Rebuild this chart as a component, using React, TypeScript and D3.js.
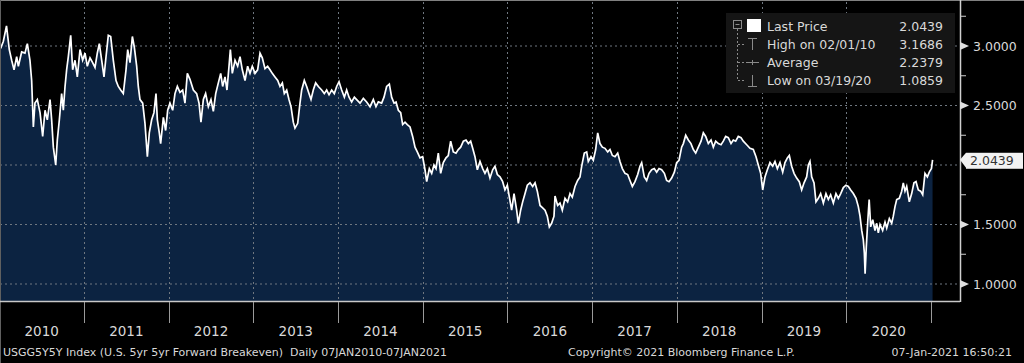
import React from "react";
import * as d3 from "d3";

// USGG5Y5Y (U.S. 5yr 5yr Forward Breakeven), [decimal year, value]
const breakeven: [number, number][] = [
  [2010.016, 2.98], [2010.048, 3.04], [2010.085, 3.1686], [2010.118, 2.97], [2010.146, 2.88],
  [2010.174, 2.8], [2010.205, 2.91], [2010.225, 2.83], [2010.264, 2.95], [2010.303, 2.94],
  [2010.331, 3.02], [2010.362, 2.88], [2010.382, 2.71], [2010.402, 2.32], [2010.421, 2.52],
  [2010.449, 2.55], [2010.481, 2.44], [2010.512, 2.24], [2010.54, 2.46], [2010.567, 2.38],
  [2010.599, 2.55], [2010.618, 2.38], [2010.638, 2.15], [2010.666, 2.0], [2010.685, 2.21],
  [2010.709, 2.38], [2010.736, 2.6], [2010.756, 2.46], [2010.776, 2.66], [2010.795, 2.8],
  [2010.815, 2.91], [2010.843, 3.09], [2010.866, 2.8], [2010.894, 2.88], [2010.921, 2.74],
  [2010.953, 2.97], [2010.984, 2.88], [2011.012, 2.94], [2011.039, 2.83], [2011.071, 2.9],
  [2011.102, 2.86], [2011.13, 2.82], [2011.157, 2.94], [2011.181, 3.02], [2011.209, 2.88],
  [2011.236, 2.74], [2011.26, 2.91], [2011.287, 3.09], [2011.315, 3.08], [2011.346, 2.88],
  [2011.378, 2.71], [2011.405, 2.66], [2011.433, 2.63], [2011.464, 2.6], [2011.496, 2.8],
  [2011.516, 2.97], [2011.543, 2.86], [2011.571, 3.08], [2011.594, 2.99], [2011.622, 2.83],
  [2011.641, 2.66], [2011.661, 2.55], [2011.693, 2.52], [2011.72, 2.35], [2011.748, 2.07],
  [2011.771, 2.27], [2011.799, 2.38], [2011.826, 2.44], [2011.85, 2.6], [2011.866, 2.38],
  [2011.889, 2.27], [2011.905, 2.18], [2011.937, 2.4], [2011.964, 2.29], [2011.988, 2.46],
  [2012.015, 2.52], [2012.047, 2.46], [2012.074, 2.6], [2012.102, 2.66], [2012.133, 2.61],
  [2012.165, 2.63], [2012.192, 2.52], [2012.22, 2.77], [2012.251, 2.72], [2012.291, 2.63],
  [2012.33, 2.6], [2012.358, 2.52], [2012.381, 2.36], [2012.409, 2.55], [2012.436, 2.6],
  [2012.468, 2.49], [2012.499, 2.55], [2012.527, 2.45], [2012.555, 2.6], [2012.586, 2.69],
  [2012.614, 2.77], [2012.637, 2.66], [2012.665, 2.74], [2012.688, 2.63], [2012.712, 2.83],
  [2012.728, 2.97], [2012.751, 2.77], [2012.783, 2.88], [2012.814, 2.83], [2012.842, 2.91],
  [2012.869, 2.8], [2012.901, 2.71], [2012.932, 2.83], [2012.96, 2.77], [2012.987, 2.83],
  [2013.019, 2.77], [2013.05, 2.8], [2013.078, 2.94], [2013.105, 2.9], [2013.137, 2.81],
  [2013.168, 2.83], [2013.196, 2.8], [2013.223, 2.77], [2013.255, 2.74], [2013.287, 2.71],
  [2013.314, 2.66], [2013.342, 2.69], [2013.365, 2.6], [2013.393, 2.63], [2013.42, 2.55],
  [2013.444, 2.49], [2013.471, 2.36], [2013.491, 2.31], [2013.523, 2.35], [2013.55, 2.52],
  [2013.57, 2.63], [2013.601, 2.71], [2013.629, 2.66], [2013.656, 2.6], [2013.68, 2.55],
  [2013.707, 2.63], [2013.735, 2.69], [2013.767, 2.66], [2013.806, 2.63], [2013.837, 2.6],
  [2013.865, 2.63], [2013.893, 2.59], [2013.924, 2.63], [2013.955, 2.6], [2013.983, 2.66],
  [2014.011, 2.7], [2014.042, 2.63], [2014.074, 2.57], [2014.101, 2.63], [2014.129, 2.57],
  [2014.16, 2.53], [2014.192, 2.57], [2014.219, 2.55], [2014.259, 2.52], [2014.298, 2.56],
  [2014.337, 2.53], [2014.377, 2.49], [2014.416, 2.55], [2014.447, 2.49], [2014.475, 2.53],
  [2014.514, 2.52], [2014.542, 2.57], [2014.573, 2.66], [2014.605, 2.68], [2014.632, 2.57],
  [2014.66, 2.52], [2014.684, 2.53], [2014.711, 2.46], [2014.739, 2.44], [2014.762, 2.34],
  [2014.79, 2.36], [2014.817, 2.34], [2014.849, 2.32], [2014.88, 2.24], [2014.908, 2.15],
  [2014.935, 2.11], [2014.967, 2.06], [2014.998, 2.07], [2015.026, 1.96], [2015.046, 1.86],
  [2015.077, 1.97], [2015.105, 1.93], [2015.132, 2.0], [2015.156, 1.97], [2015.183, 2.1],
  [2015.211, 1.93], [2015.242, 2.02], [2015.274, 2.06], [2015.301, 2.08], [2015.329, 2.2],
  [2015.36, 2.11], [2015.392, 2.1], [2015.419, 2.13], [2015.447, 2.15], [2015.479, 2.2],
  [2015.51, 2.21], [2015.538, 2.18], [2015.565, 2.2], [2015.589, 2.14], [2015.616, 2.07],
  [2015.644, 1.96], [2015.675, 2.03], [2015.707, 1.97], [2015.734, 1.93], [2015.762, 1.97],
  [2015.793, 1.89], [2015.825, 1.96], [2015.852, 1.99], [2015.88, 1.92], [2015.911, 1.9],
  [2015.943, 1.86], [2015.97, 1.79], [2015.998, 1.83], [2016.022, 1.73], [2016.049, 1.62],
  [2016.077, 1.76], [2016.108, 1.62], [2016.128, 1.51], [2016.155, 1.62], [2016.179, 1.69],
  [2016.207, 1.76], [2016.234, 1.83], [2016.266, 1.85], [2016.297, 1.82], [2016.325, 1.85],
  [2016.352, 1.78], [2016.384, 1.66], [2016.415, 1.64], [2016.443, 1.62], [2016.47, 1.57],
  [2016.494, 1.48], [2016.521, 1.51], [2016.549, 1.57], [2016.561, 1.74], [2016.592, 1.66],
  [2016.62, 1.68], [2016.647, 1.62], [2016.679, 1.72], [2016.71, 1.69], [2016.738, 1.76],
  [2016.765, 1.73], [2016.797, 1.82], [2016.828, 1.87], [2016.856, 1.9], [2016.876, 1.99],
  [2016.907, 2.1], [2016.935, 2.11], [2016.954, 2.03], [2016.986, 2.07], [2017.013, 2.04],
  [2017.041, 2.13], [2017.065, 2.27], [2017.092, 2.18], [2017.12, 2.15], [2017.151, 2.14],
  [2017.183, 2.11], [2017.21, 2.13], [2017.238, 2.08], [2017.269, 2.07], [2017.301, 2.1],
  [2017.328, 2.03], [2017.356, 1.97], [2017.387, 1.93], [2017.419, 1.92], [2017.446, 1.87],
  [2017.474, 1.82], [2017.505, 1.86], [2017.537, 1.92], [2017.564, 1.99], [2017.584, 2.02],
  [2017.615, 1.9], [2017.643, 1.87], [2017.671, 1.93], [2017.702, 1.96], [2017.733, 1.97],
  [2017.761, 1.94], [2017.789, 1.97], [2017.82, 1.96], [2017.852, 1.93], [2017.879, 1.87],
  [2017.907, 1.86], [2017.938, 1.89], [2017.97, 1.94], [2017.997, 2.02], [2018.025, 2.04],
  [2018.056, 2.15], [2018.076, 2.18], [2018.104, 2.25], [2018.135, 2.21], [2018.166, 2.18],
  [2018.194, 2.13], [2018.222, 2.1], [2018.253, 2.15], [2018.285, 2.2], [2018.312, 2.27],
  [2018.34, 2.24], [2018.371, 2.18], [2018.403, 2.21], [2018.43, 2.15], [2018.458, 2.2],
  [2018.489, 2.18], [2018.521, 2.17], [2018.548, 2.2], [2018.576, 2.24], [2018.607, 2.23],
  [2018.639, 2.18], [2018.666, 2.21], [2018.694, 2.2], [2018.725, 2.24], [2018.757, 2.23],
  [2018.784, 2.2], [2018.824, 2.17], [2018.863, 2.14], [2018.902, 2.13], [2018.934, 2.07],
  [2018.961, 2.0], [2018.989, 1.93], [2019.013, 1.79], [2019.04, 1.9], [2019.068, 1.96],
  [2019.099, 2.02], [2019.131, 1.99], [2019.158, 2.03], [2019.186, 1.97], [2019.217, 2.02],
  [2019.249, 1.94], [2019.276, 2.02], [2019.304, 2.06], [2019.327, 2.08], [2019.355, 1.99],
  [2019.383, 1.93], [2019.414, 1.89], [2019.445, 1.86], [2019.473, 1.79], [2019.501, 1.85],
  [2019.532, 1.9], [2019.552, 2.0], [2019.571, 2.03], [2019.591, 1.9], [2019.619, 1.85],
  [2019.642, 1.69], [2019.67, 1.72], [2019.697, 1.76], [2019.729, 1.68], [2019.76, 1.76],
  [2019.788, 1.71], [2019.815, 1.75], [2019.847, 1.68], [2019.878, 1.76], [2019.906, 1.72],
  [2019.934, 1.76], [2019.965, 1.81], [2019.996, 1.83], [2020.024, 1.82], [2020.052, 1.79],
  [2020.083, 1.76], [2020.115, 1.72], [2020.142, 1.65], [2020.162, 1.57], [2020.182, 1.45],
  [2020.201, 1.37], [2020.213, 1.26], [2020.222, 1.0859], [2020.236, 1.31], [2020.252, 1.51],
  [2020.27, 1.71], [2020.288, 1.48], [2020.312, 1.54], [2020.339, 1.45], [2020.359, 1.51],
  [2020.378, 1.43], [2020.398, 1.5], [2020.429, 1.45], [2020.457, 1.52], [2020.477, 1.47],
  [2020.508, 1.55], [2020.536, 1.51], [2020.555, 1.57], [2020.575, 1.65], [2020.595, 1.71],
  [2020.626, 1.72], [2020.654, 1.78], [2020.673, 1.85], [2020.693, 1.78], [2020.713, 1.82],
  [2020.744, 1.69], [2020.772, 1.76], [2020.799, 1.85], [2020.823, 1.86], [2020.85, 1.79],
  [2020.878, 1.78], [2020.902, 1.75], [2020.929, 1.93], [2020.957, 1.9], [2020.98, 1.94],
  [2021.005, 1.97], [2021.0185, 2.0439],
];

const yMajorTicks = [1.0, 1.5, 2.0, 2.5, 3.0];
const yMinorTicks = [1.25, 1.75, 2.25, 2.75, 3.25];
const yearLabels = ["2010", "2011", "2012", "2013", "2014", "2015", "2016", "2017", "2018", "2019", "2020"];
const yearBoundaries = [2011, 2012, 2013, 2014, 2015, 2016, 2017, 2018, 2019, 2020, 2021];
const legendLabels = ["Last Price", "High on 02/01/10", "Average", "Low on 03/19/20"];
const legendValues = ["2.0439", "3.1686", "2.2379", "1.0859"];
const lastPrice = 2.0439;
const lastPriceLabel = "2.0439";
const footerLeft = "USGG5Y5Y Index (U.S. 5yr 5yr Forward Breakeven)  Daily 07JAN2010-07JAN2021";
const footerMid = "Copyright\u00A9 2021 Bloomberg Finance L.P.";
const footerRight = "07-Jan-2021 16:50:21";

const FONT = "'DejaVu Sans', Tahoma, sans-serif";

export default function App() {
  const W = 1024;
  const H = 363;
  const plotBottom = 301;
  const axisX = 960;
  const x = d3.scaleLinear().domain([2010, 2021]).range([-0.7, 931]);
  const y = d3.scaleLinear().domain([1, 3]).range([284, 46]);

  const line = d3
    .line<[number, number]>()
    .x((d) => x(d[0]))
    .y((d) => y(d[1]));
  const area = d3
    .area<[number, number]>()
    .x((d) => x(d[0]))
    .y0(plotBottom)
    .y1((d) => y(d[1]));

  const gridColor = "#6f7780";
  const textColor = "#d9d9d9";
  const lastY = y(lastPrice);
  const visibleMajor = yMajorTicks.filter((t) => Math.abs(y(t) - lastY) > 12);

  const rowY = (i: number) => 26 + i * 18;

  return (
    <div style={{ position: "fixed", left: 0, top: 0, width: W, height: H, background: "#000" }}>
      <svg width={W} height={H} style={{ display: "block", background: "#000" }} fontFamily={FONT}>
        {/* area */}
        <path d={area(breakeven) || ""} fill="#0c2341" />

        {/* grid */}
        {yMajorTicks.map((t) => (
          <line key={"gh" + t} x1={0} x2={axisX - 2} y1={y(t)} y2={y(t)} stroke={gridColor} strokeWidth={1} strokeDasharray="2,3" />
        ))}
        {yearBoundaries.slice(0, -1).map((yr) => (
          <line key={"gv" + yr} x1={Math.round(x(yr)) + 0.5} x2={Math.round(x(yr)) + 0.5} y1={2} y2={plotBottom} stroke={gridColor} strokeWidth={1} strokeDasharray="2,3" />
        ))}

        <path d={line(breakeven) || ""} fill="none" stroke="#ffffff" strokeWidth={1.7} strokeLinejoin="miter" />

        {/* frame */}
        <line x1={0} x2={W} y1={0.5} y2={0.5} stroke="#808080" strokeWidth={1} />
        <line x1={0.5} x2={0.5} y1={0} y2={H} stroke="#606060" strokeWidth={1} />

        {/* bottom axis */}
        <line x1={0} x2={axisX} y1={plotBottom + 0.5} y2={plotBottom + 0.5} stroke="#c8c8c8" strokeWidth={1.5} />
        {yearBoundaries.map((yr) => (
          <line key={"bt" + yr} x1={Math.round(x(yr)) + 0.5} x2={Math.round(x(yr)) + 0.5} y1={plotBottom + 1} y2={plotBottom + 22} stroke="#9a9a9a" strokeWidth={1} />
        ))}
        {yearLabels.map((lab, i) => (
          <text key={lab} x={x(2010.5 + i)} y={336} fill={textColor} fontSize={13.5} textAnchor="middle">
            {lab}
          </text>
        ))}

        {/* right axis */}
        <line x1={axisX + 0.5} x2={axisX + 0.5} y1={0} y2={plotBottom + 1} stroke="#d0d0d0" strokeWidth={1.5} />
        {yMinorTicks.map((t) => (
          <line key={"mt" + t} x1={axisX} x2={axisX + 6} y1={y(t)} y2={y(t)} stroke="#d0d0d0" strokeWidth={1} />
        ))}
        {visibleMajor.map((t) => (
          <g key={"mj" + t}>
            <path d={`M${axisX},${y(t) - 4}L${axisX + 9},${y(t)}L${axisX},${y(t) + 4}Z`} fill="#e0e0e0" />
            <text x={axisX + 13} y={y(t) + 4.5} fill={textColor} fontSize={12.5}>
              {t.toFixed(4)}
            </text>
          </g>
        ))}

        {/* last price marker */}
        <g>
          <path d={`M${axisX},${lastY}L${axisX + 6},${lastY - 7}L${axisX + 6},${lastY + 8}Z`} fill="#f2f2f2" />
          <rect x={axisX + 6} y={lastY - 7} width={57} height={16} fill="#f2f2f2" />
          <text x={axisX + 10} y={lastY + 5.5} fill="#333" fontSize={12.5}>
            {lastPriceLabel}
          </text>
        </g>

        {/* legend */}
        <rect x={726} y={13} width={229} height={80} fill="#151515" />
        <g stroke="#8a8a8a" strokeWidth={1} fill="none">
          <rect x={733.5} y={20.5} width={8} height={8} />
          <line x1={735.5} x2={739.5} y1={24.5} y2={24.5} />
          <line x1={737.5} x2={737.5} y1={29} y2={80.5} strokeDasharray="2,2" />
          {[1, 2, 3].map((i) => (
            <line key={"tb" + i} x1={738} x2={745} y1={rowY(i) + 0.5} y2={rowY(i) + 0.5} strokeDasharray="2,2" />
          ))}
          <line x1={748} x2={757} y1={rowY(1) - 5.5} y2={rowY(1) - 5.5} />
          <line x1={752.5} x2={752.5} y1={rowY(1) - 5} y2={rowY(1) + 6} />
          <line x1={746} x2={759} y1={rowY(2) + 0.5} y2={rowY(2) + 0.5} />
          <line x1={752.5} x2={752.5} y1={rowY(2) - 2} y2={rowY(2) + 3} />
          <line x1={748} x2={757} y1={rowY(3) + 6.5} y2={rowY(3) + 6.5} />
          <line x1={752.5} x2={752.5} y1={rowY(3) - 5} y2={rowY(3) + 6} />
        </g>
        <rect x={747} y={19} width={14} height={13} fill="#ffffff" />
        {legendLabels.map((lab, i) => (
          <text key={lab} x={767} y={rowY(i) + 4.5} fill={textColor} fontSize={12.5}>
            {lab}
          </text>
        ))}
        {legendValues.map((v, i) => (
          <text key={"lv" + i} x={943} y={rowY(i) + 4.5} fill={textColor} fontSize={12.5} textAnchor="end">
            {v}
          </text>
        ))}

        {/* footer */}
        <text x={3} y={356} fill={textColor} fontSize={11} style={{ whiteSpace: "pre" }}>
          {footerLeft}
        </text>
        <text x={568} y={356} fill={textColor} fontSize={11}>
          {footerMid}
        </text>
        <text x={1012} y={356} fill={textColor} fontSize={11} textAnchor="end">
          {footerRight}
        </text>
      </svg>
    </div>
  );
}
